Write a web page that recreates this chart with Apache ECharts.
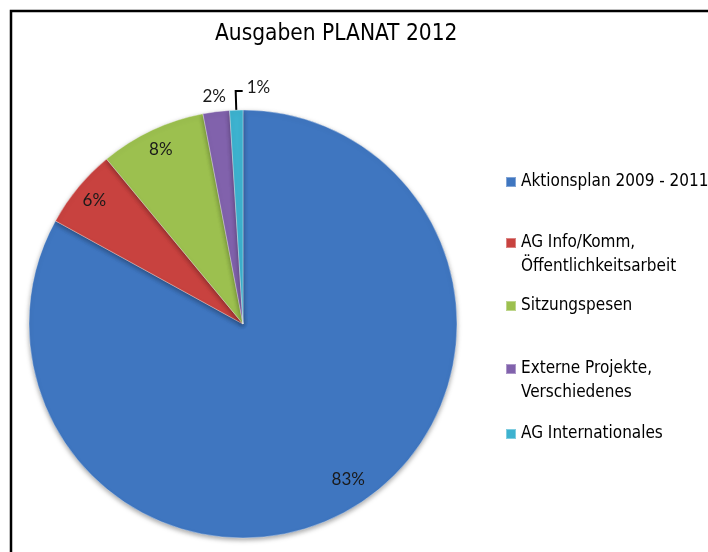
<!DOCTYPE html>
<html>
<head>
    <meta charset="utf-8">
    <title>Ausgaben PLANAT 2012</title>
    <script src="https://cdn.jsdelivr.net/npm/echarts@6.0.0/dist/echarts.min.js"></script>
    <style>
        html, body { margin: 0; padding: 0; background: #fff; }
        #chart { width: 708px; height: 552px; }
    </style>
</head>
<body>
    <div id="chart"></div>
    <script>
        // Daten
        var categories = ['Aktionsplan 2009 - 2011', 'AG Info/Komm,\nÖffentlichkeitsarbeit', 'Sitzungspesen', 'Externe Projekte,\nVerschiedenes', 'AG Internationales'];
        var values = [83, 6, 8, 2, 1];
        var colors = ['#3f76c0', '#c8423f', '#9cc04f', '#8162ac', '#3db2cf'];

        var chart = echarts.init(document.getElementById('chart'));

        var pieData = categories.map(function (c, i) {
            return { name: c, value: values[i] };
        });

        // Beschriftungen: 83/6/8 innen, 2/1 aussen
        var labelData = categories.map(function (c, i) {
            var item = { name: c, value: values[i] };
            if (values[i] <= 2) {
                item.label = { position: 'outside' };
                if (values[i] == 1) {
                    item.labelLine = { show: true, length: 19, length2: 7 };
                } else {
                    item.labelLine = { show: false, length: 10, length2: 0 };
                }
            }
            return item;
        });

        // legende: jeweils eigene Komponente, damit das Symbol an der ersten Zeile steht
        var legendTops = [170, 207, 294, 333, 422];
        var legends = categories.map(function (c, i) {
            return {
                orient: 'vertical',
                left: 505,
                top: legendTops[i],
                padding: 0,
                data: [c],
                icon: 'rect',
                itemWidth: 10,
                itemHeight: 10,
                itemGap: 0,
                selectedMode: false,
                formatter: function (name) {
                    return name.indexOf('\n') >= 0 ? ' \n' + name : name;
                },
                textStyle: {
                    fontFamily: 'DejaVu Sans Condensed, sans-serif',
                    fontSize: 17,
                    color: '#000',
                    lineHeight: 24
                }
            };
        });

        var option = {
            animation: false,
            color: colors,
            title: {
                text: 'Ausgaben PLANAT 2012',
                left: 210,
                top: 18,
                textStyle: {
                    fontFamily: 'DejaVu Sans Condensed, sans-serif',
                    fontSize: 22.5,
                    fontWeight: 'normal',
                    color: '#000'
                }
            },
            legend: legends,
            graphic: [{
                type: 'rect',
                shape: { x: 11, y: 11, width: 900, height: 900 },
                style: { fill: 'none', stroke: '#000', lineWidth: 2.5 },
                silent: true
            }],
            series: [
                {
                    type: 'pie',
                    center: [243, 324],
                    radius: 214,
                    startAngle: 90,
                    clockwise: true,
                    data: pieData,
                    label: { show: false },
                    labelLine: { show: false },
                    itemStyle: {
                        borderColor: 'rgba(255,255,255,0.35)',
                        borderWidth: 1,
                        shadowBlur: 5,
                        shadowColor: 'rgba(0,0,0,0.35)',
                        shadowOffsetY: 2
                    }
                },
                {
                    type: 'pie',
                    silent: true,
                    avoidLabelOverlap: false,
                    center: [243, 324],
                    radius: [166, 214],
                    startAngle: 90,
                    clockwise: true,
                    data: labelData,
                    itemStyle: { color: 'transparent' },
                    label: {
                        show: true,
                        position: 'inside',
                        formatter: '{c}%',
                        fontFamily: 'Lato, Open Sans, sans-serif',
                        fontSize: 17,
                        color: '#1a1a1a'
                    },
                    labelLine: { show: false, lineStyle: { color: '#000', width: 2 } },
                    labelLayout: function (p) {
                        // 1%: Fuehrungslinie nach rechts umklappen
                        if (p.dataIndex === 4 && p.labelLinePoints) {
                            var a = p.labelLinePoints[0], b = p.labelLinePoints[1], e = p.labelLinePoints[2];
                            var e2 = [b[0] + (b[0] - e[0]), e[1]];
                            return {
                                labelLinePoints: [a, b, e2],
                                x: e2[0] + 4,
                                y: e2[1] - 4,
                                align: 'left',
                                verticalAlign: 'middle'
                            };
                        }
                        if (p.dataIndex === 3) {
                            return { dx: 16, dy: -5 };
                        }
                        if (p.dataIndex === 0) {
                            return { dx: 7, dy: -11 };
                        }
                    }
                }
            ]
        };

        chart.setOption(option);
    </script>
</body>
</html>
